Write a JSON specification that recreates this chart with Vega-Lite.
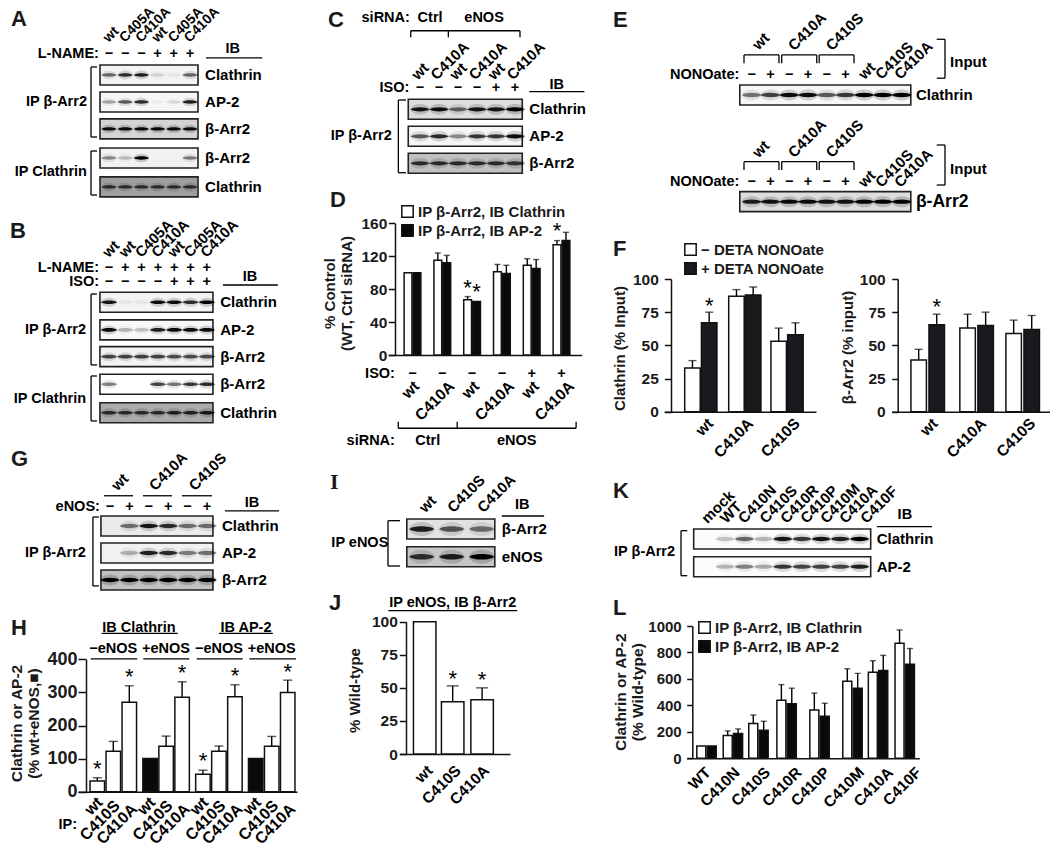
{
"$schema":"https://vega.github.io/schema/vega-lite/v6.json",
"padding":0,"background":"white","columns":4,"bounds":"flush","spacing":0,"align":"each",
"config":{"font":"Liberation Sans","view":{"stroke":null},"point":{"color":"#000"},
"axis":{"grid":false,"domainColor":"#111","domainWidth":1.5,"tickColor":"#111","tickWidth":1.5,"tickSize":8,"labelColor":"#1a1a1a","labelFontWeight":"bold","labelPadding":3,"titleColor":"#1a1a1a","titleFontWeight":"bold","titleFontSize":15,"titleAngle":270,"format":"d"},
"title":{"anchor":"start","frame":"group","fontSize":22,"fontWeight":"bold","color":"#1a1a1a","baseline":"alphabetic"},
"legend":{"symbolType":"square","symbolStrokeColor":"#111","symbolStrokeWidth":1.5,"labelFontSize":15,"labelFontWeight":"bold","labelColor":"#1a1a1a","symbolSize":130,"rowPadding":0,"labelOffset":3,"orient":"none","title":null},
"style":{
"smp":{"align":"left","baseline":"middle","angle":315,"fontSize":15,"fontWeight":"bold","fill":"#1a1a1a"},
"end":{"align":"right","baseline":"middle","angle":315,"fontSize":15.5,"fontWeight":"bold","fill":"#1a1a1a"},
"lab":{"align":"left","baseline":"middle","fontSize":15,"fontWeight":"bold","fill":"#1a1a1a"},
"rgt":{"align":"right","baseline":"middle","fontSize":14.5,"fontWeight":"bold","fill":"#1a1a1a"},
"ctr":{"align":"center","baseline":"middle","fontSize":14.5,"fontWeight":"bold","fill":"#1a1a1a"},
"star":{"align":"center","baseline":"middle","fontSize":22,"fill":"#444"},
"rl":{"stroke":"#111","strokeWidth":1.3},
"err":{"stroke":"#111","strokeWidth":1.4},
"bar1":{"stroke":"#111","strokeWidth":1.5},
"strip":{"stroke":"#222","strokeWidth":1.6},
"core":{"shape":"M-1,0C-.7,-.3 .7,-.3 1,0C.7,.3 -.7,.3 -1,0Z","strokeWidth":0},
"halo":{"shape":"M-1.05,0C-.8,-.75 .8,-.75 1.05,0C.8,.75 -.8,.75 -1.05,0Z","strokeWidth":0}
}},
"datasets":{
"a_b":[{"lane":1,"row":1,"v":0.55},{"lane":2,"row":1,"v":0.8},{"lane":3,"row":1,"v":0.85},{"lane":4,"row":1,"v":0.12},{"lane":5,"row":1,"v":0.05},{"lane":6,"row":1,"v":0.55},
{"lane":1,"row":1.98,"v":0.3},{"lane":2,"row":1.98,"v":0.6},{"lane":3,"row":1.98,"v":0.8},{"lane":4,"row":1.98,"v":0.03},{"lane":5,"row":1.98,"v":0.1},{"lane":6,"row":1.98,"v":0.85},
{"lane":1,"row":2.96,"v":0.95},{"lane":2,"row":2.96,"v":0.95},{"lane":3,"row":2.96,"v":0.95},{"lane":4,"row":2.96,"v":0.95},{"lane":5,"row":2.96,"v":0.95},{"lane":6,"row":2.96,"v":0.95},
{"lane":1,"row":4.02,"v":0.4},{"lane":2,"row":4.02,"v":0.2},{"lane":3,"row":4.02,"v":1},{"lane":4,"row":4.02,"v":0},{"lane":5,"row":4.02,"v":0},{"lane":6,"row":4.02,"v":0.45},
{"lane":1,"row":5.07,"v":0.7},{"lane":2,"row":5.07,"v":0.7},{"lane":3,"row":5.07,"v":0.7},{"lane":4,"row":5.07,"v":0.7},{"lane":5,"row":5.07,"v":0.7},{"lane":6,"row":5.07,"v":0.7}],
"b_b":[{"lane":1,"row":1,"v":0.9},{"lane":2,"row":1,"v":0.05},{"lane":3,"row":1,"v":0.05},{"lane":4,"row":1,"v":0.95},{"lane":5,"row":1,"v":0.95},{"lane":6,"row":1,"v":0.8},{"lane":7,"row":1,"v":1},
{"lane":1,"row":2,"v":0.95},{"lane":2,"row":2,"v":0.25},{"lane":3,"row":2,"v":0.2},{"lane":4,"row":2,"v":0.85},{"lane":5,"row":2,"v":0.95},{"lane":6,"row":2,"v":0.95},{"lane":7,"row":2,"v":0.95},
{"lane":1,"row":2.97,"v":0.7},{"lane":2,"row":2.97,"v":0.7},{"lane":3,"row":2.97,"v":0.7},{"lane":4,"row":2.97,"v":0.7},{"lane":5,"row":2.97,"v":0.65},{"lane":6,"row":2.97,"v":0.65},{"lane":7,"row":2.97,"v":0.65},
{"lane":1,"row":3.97,"v":0.45},{"lane":2,"row":3.97,"v":0},{"lane":3,"row":3.97,"v":0},{"lane":4,"row":3.97,"v":0.7},{"lane":5,"row":3.97,"v":0.5},{"lane":6,"row":3.97,"v":0.75},{"lane":7,"row":3.97,"v":0.8},
{"lane":1,"row":5,"v":0.75},{"lane":2,"row":5,"v":0.75},{"lane":3,"row":5,"v":0.75},{"lane":4,"row":5,"v":0.75},{"lane":5,"row":5,"v":0.8},{"lane":6,"row":5,"v":0.8},{"lane":7,"row":5,"v":0.85}],
"g_b":[{"lane":1,"row":1,"v":0},{"lane":2,"row":1,"v":0.5},{"lane":3,"row":1,"v":0.9},{"lane":4,"row":1,"v":0.8},{"lane":5,"row":1,"v":0.5},{"lane":6,"row":1,"v":0.5},
{"lane":1,"row":2,"v":0},{"lane":2,"row":2,"v":0.25},{"lane":3,"row":2,"v":0.85},{"lane":4,"row":2,"v":0.8},{"lane":5,"row":2,"v":0.45},{"lane":6,"row":2,"v":0.5},
{"lane":1,"row":3,"v":1},{"lane":2,"row":3,"v":1},{"lane":3,"row":3,"v":1},{"lane":4,"row":3,"v":1},{"lane":5,"row":3,"v":1},{"lane":6,"row":3,"v":1}],
"c_b":[{"lane":1,"row":1,"v":0.9},{"lane":2,"row":1,"v":0.95},{"lane":3,"row":1,"v":0.55},{"lane":4,"row":1,"v":0.9},{"lane":5,"row":1,"v":0.9},{"lane":6,"row":1,"v":1},
{"lane":1,"row":2,"v":0.6},{"lane":2,"row":2,"v":0.8},{"lane":3,"row":2,"v":0.4},{"lane":4,"row":2,"v":0.75},{"lane":5,"row":2,"v":0.75},{"lane":6,"row":2,"v":0.95},
{"lane":1,"row":3,"v":0.75},{"lane":2,"row":3,"v":0.75},{"lane":3,"row":3,"v":0.75},{"lane":4,"row":3,"v":0.75},{"lane":5,"row":3,"v":0.75},{"lane":6,"row":3,"v":0.7}],
"e_b":[{"lane":1,"row":1,"v":0.5},{"lane":2,"row":1,"v":0.7},{"lane":3,"row":1,"v":0.95},{"lane":4,"row":1,"v":0.95},{"lane":5,"row":1,"v":0.6},{"lane":6,"row":1,"v":0.75},{"lane":7,"row":1,"v":1},{"lane":8,"row":1,"v":1},{"lane":9,"row":1,"v":1},
{"lane":1,"row":2,"v":0.85},{"lane":2,"row":2,"v":0.9},{"lane":3,"row":2,"v":0.95},{"lane":4,"row":2,"v":0.95},{"lane":5,"row":2,"v":0.9},{"lane":6,"row":2,"v":0.9},{"lane":7,"row":2,"v":1},{"lane":8,"row":2,"v":1},{"lane":9,"row":2,"v":1}],
"i_b":[{"lane":1,"row":1,"v":0.85},{"lane":2,"row":1,"v":0.6},{"lane":3,"row":1,"v":0.5},{"lane":1,"row":2,"v":0.75},{"lane":2,"row":2,"v":0.85},{"lane":3,"row":2,"v":1}],
"k_b":[{"lane":1,"row":1,"v":0},{"lane":2,"row":1,"v":0.2},{"lane":3,"row":1,"v":0.55},{"lane":4,"row":1,"v":0.25},{"lane":5,"row":1,"v":0.9},{"lane":6,"row":1,"v":0.75},{"lane":7,"row":1,"v":0.9},{"lane":8,"row":1,"v":0.85},{"lane":9,"row":1,"v":1},
{"lane":1,"row":2,"v":0},{"lane":2,"row":2,"v":0.25},{"lane":3,"row":2,"v":0.45},{"lane":4,"row":2,"v":0.3},{"lane":5,"row":2,"v":0.75},{"lane":6,"row":2,"v":0.7},{"lane":7,"row":2,"v":0.7},{"lane":8,"row":2,"v":0.7},{"lane":9,"row":2,"v":0.85}],
"d_v":[{"slot":0.85,"sample":"wt","series":"IP β-Arr2, IB Clathrin","value":100,"hi":null},{"slot":1.15,"sample":"wt","series":"IP β-Arr2, IB AP-2","value":100,"hi":null},
{"slot":1.85,"sample":"C410A","series":"IP β-Arr2, IB Clathrin","value":115,"hi":124},{"slot":2.15,"sample":"C410A","series":"IP β-Arr2, IB AP-2","value":112,"hi":121},
{"slot":2.85,"sample":"wt","series":"IP β-Arr2, IB Clathrin","value":67,"hi":71},{"slot":3.15,"sample":"wt","series":"IP β-Arr2, IB AP-2","value":65,"hi":null},
{"slot":3.85,"sample":"C410A","series":"IP β-Arr2, IB Clathrin","value":101,"hi":110},{"slot":4.15,"sample":"C410A","series":"IP β-Arr2, IB AP-2","value":99,"hi":109},
{"slot":4.85,"sample":"wt","series":"IP β-Arr2, IB Clathrin","value":109,"hi":117},{"slot":5.15,"sample":"wt","series":"IP β-Arr2, IB AP-2","value":105,"hi":116},
{"slot":5.85,"sample":"C410A","series":"IP β-Arr2, IB Clathrin","value":134,"hi":139},{"slot":6.15,"sample":"C410A","series":"IP β-Arr2, IB AP-2","value":139,"hi":149}],
"f1_v":[{"slot":0.81,"series":"− DETA NONOate","value":33,"hi":38.5},{"slot":1.19,"series":"+ DETA NONOate","value":67,"hi":75},{"slot":1.81,"series":"− DETA NONOate","value":87,"hi":92},{"slot":2.19,"series":"+ DETA NONOate","value":88,"hi":94},{"slot":2.77,"series":"− DETA NONOate","value":53,"hi":63},{"slot":3.15,"series":"+ DETA NONOate","value":58,"hi":67}],
"f2_v":[{"slot":0.81,"series":"− DETA NONOate","value":39,"hi":47},{"slot":1.19,"series":"+ DETA NONOate","value":65.5,"hi":73.5},{"slot":1.84,"series":"− DETA NONOate","value":63,"hi":73.5},{"slot":2.22,"series":"+ DETA NONOate","value":65,"hi":75},{"slot":2.81,"series":"− DETA NONOate","value":59,"hi":69},{"slot":3.19,"series":"+ DETA NONOate","value":62,"hi":72.5}],
"h_v":[{"slot":1,"series":"sample","value":32,"hi":42},{"slot":2,"series":"sample","value":122,"hi":152},{"slot":3,"series":"sample","value":270,"hi":320},
{"slot":4.3,"series":"reference","value":100,"hi":null},{"slot":5.3,"series":"sample","value":137,"hi":168},{"slot":6.3,"series":"sample","value":285,"hi":332},
{"slot":7.6,"series":"sample","value":53,"hi":65},{"slot":8.6,"series":"sample","value":122,"hi":138},{"slot":9.6,"series":"sample","value":287,"hi":323},
{"slot":10.9,"series":"reference","value":100,"hi":null},{"slot":11.9,"series":"sample","value":137,"hi":167},{"slot":12.9,"series":"sample","value":300,"hi":337}],
"j_v":[{"slot":1,"series":"sample","value":100,"hi":null},{"slot":1.975,"series":"sample","value":39.5,"hi":51.5},{"slot":3,"series":"sample","value":41,"hi":50}],
"l_v":[{"slot":0.817,"series":"IP β-Arr2, IB Clathrin","value":93,"hi":null},{"slot":1.183,"series":"IP β-Arr2, IB AP-2","value":93,"hi":null},
{"slot":1.747,"series":"IP β-Arr2, IB Clathrin","value":172,"hi":207},{"slot":2.113,"series":"IP β-Arr2, IB AP-2","value":188,"hi":222},
{"slot":2.647,"series":"IP β-Arr2, IB Clathrin","value":263,"hi":327},{"slot":3.013,"series":"IP β-Arr2, IB AP-2","value":212,"hi":280},
{"slot":3.637,"series":"IP β-Arr2, IB Clathrin","value":438,"hi":557},{"slot":4.003,"series":"IP β-Arr2, IB AP-2","value":412,"hi":530},
{"slot":4.797,"series":"IP β-Arr2, IB Clathrin","value":365,"hi":493},{"slot":5.163,"series":"IP β-Arr2, IB AP-2","value":318,"hi":416},
{"slot":5.957,"series":"IP β-Arr2, IB Clathrin","value":583,"hi":677},{"slot":6.323,"series":"IP β-Arr2, IB AP-2","value":530,"hi":642},
{"slot":6.857,"series":"IP β-Arr2, IB Clathrin","value":650,"hi":738},{"slot":7.223,"series":"IP β-Arr2, IB AP-2","value":663,"hi":778},
{"slot":7.797,"series":"IP β-Arr2, IB Clathrin","value":870,"hi":970},{"slot":8.163,"series":"IP β-Arr2, IB AP-2","value":710,"hi":830}]
},
"concat":[
{"title":{"text":"A","dx":11,"offset":-31},"width":310,"height":215,
"encoding":{"x":{"field":"lane","type":"quantitative","axis":null,"scale":{"domain":[-5.728,13.407],"nice":false,"zero":false}},"y":{"field":"row","type":"quantitative","axis":null,"scale":{"domain":[6.091,-1.727],"nice":false,"zero":false}}},
"layer":[
{"data":{"values":[{"lane":-0.11,"lane2":-0.11,"row":0.709,"row2":3.255},{"lane":-0.11,"lane2":0.26,"row":0.709,"row2":0.709},{"lane":-0.11,"lane2":0.26,"row":3.255,"row2":3.255},{"lane":-0.11,"lane2":-0.11,"row":3.764,"row2":5.364},{"lane":-0.11,"lane2":0.26,"row":3.764,"row2":3.764},{"lane":-0.11,"lane2":0.26,"row":5.364,"row2":5.364},{"lane":6.99,"lane2":10.46,"row":0.38,"row2":0.38}]},"mark":{"type":"rule","style":"rl"},"encoding":{"x2":{"field":"lane2"},"y2":{"field":"row2"}}},
{"data":{"values":[{"lane":3.47,"row":1,"bg":0.04},{"lane":3.47,"row":1.98,"bg":0.03},{"lane":3.47,"row":2.96,"bg":0.15},{"lane":3.47,"row":4.02,"bg":0.05},{"lane":3.47,"row":5.07,"bg":0.35}]},"mark":{"type":"rect","width":98,"height":20,"style":"strip"},"encoding":{"fill":{"field":"bg","type":"quantitative","legend":null,"scale":{"domain":[0,1],"range":["#ffffff","#000000"]}}}},
{"data":{"name":"a_b"},"mark":{"type":"point","filled":true,"size":225,"style":"halo"},"encoding":{"fillOpacity":{"field":"v","type":"quantitative","legend":null,"scale":{"domain":[0,1],"range":[0,0.25]}}}},
{"data":{"name":"a_b"},"mark":{"type":"point","filled":true,"size":225,"style":"core"},"encoding":{"opacity":{"field":"v","type":"quantitative","legend":null,"scale":{"domain":[0,1],"range":[0,1]}}}},
{"data":{"values":[{"lane":0.8,"row":-0.27,"label":"wt"},{"lane":1.8,"row":-0.27,"label":"C405A"},{"lane":2.8,"row":-0.27,"label":"C410A"},{"lane":3.8,"row":-0.27,"label":"wt"},{"lane":4.8,"row":-0.27,"label":"C405A"},{"lane":5.8,"row":-0.27,"label":"C410A"}]},"mark":{"type":"text","style":"smp","fontSize":13.8},"encoding":{"text":{"field":"label"}}},
{"data":{"values":[{"lane":6.93,"row":1,"label":"Clathrin"},{"lane":6.93,"row":1.98,"label":"AP-2"},{"lane":6.93,"row":2.96,"label":"β-Arr2"},{"lane":6.93,"row":4.02,"label":"β-Arr2"},{"lane":6.93,"row":5.07,"label":"Clathrin"}]},"mark":{"type":"text","style":"lab"},"encoding":{"text":{"field":"label"}}},
{"data":{"values":[{"lane":0.38,"row":0.236,"label":"L-NAME:"},{"lane":-0.36,"row":1.98,"label":"IP β-Arr2"},{"lane":-0.36,"row":4.53,"label":"IP Clathrin"}]},"mark":{"type":"text","style":"rgt"},"encoding":{"text":{"field":"label"}}},
{"data":{"values":[{"lane":1,"row":0.236,"label":"−"},{"lane":2,"row":0.236,"label":"−"},{"lane":3,"row":0.236,"label":"−"},{"lane":4,"row":0.236,"label":"+"},{"lane":5,"row":0.236,"label":"+"},{"lane":6,"row":0.236,"label":"+"},{"lane":8.64,"row":0.05,"label":"IB"}]},"mark":{"type":"text","style":"ctr"},"encoding":{"text":{"field":"label"}}}
]},
{"title":{"text":"C","dx":18,"offset":-32},"width":290,"height":215,
"encoding":{"x":{"field":"lane","type":"quantitative","axis":null,"scale":{"domain":[-4.79,10.47],"nice":false,"zero":false}},"y":{"field":"row","type":"quantitative","axis":null,"scale":{"domain":[4.915,-3.048],"nice":false,"zero":false}}},
"layer":[
{"data":{"values":[{"lane":-0.14,"lane2":-0.14,"row":0.656,"row2":3.35},{"lane":-0.14,"lane2":0.26,"row":0.656,"row2":0.656},{"lane":-0.14,"lane2":0.26,"row":3.35,"row2":3.35},{"lane":0.51,"lane2":6.26,"row":-1.91,"row2":-1.91},{"lane":0.51,"lane2":0.51,"row":-1.91,"row2":-1.667},{"lane":2.49,"lane2":2.49,"row":-1.91,"row2":-1.667},{"lane":6.26,"lane2":6.26,"row":-1.91,"row2":-1.667},{"lane":6.75,"lane2":9.65,"row":0.348,"row2":0.348}]},"mark":{"type":"rule","style":"rl"},"encoding":{"x2":{"field":"lane2"},"y2":{"field":"row2"}}},
{"data":{"values":[{"lane":3.38,"row":1,"bg":0.12},{"lane":3.38,"row":2,"bg":0.03},{"lane":3.38,"row":3,"bg":0.22}]},"mark":{"type":"rect","width":114,"height":20,"style":"strip"},"encoding":{"fill":{"field":"bg","type":"quantitative","legend":null,"scale":{"domain":[0,1],"range":["#ffffff","#000000"]}}}},
{"data":{"name":"c_b"},"mark":{"type":"point","filled":true,"size":361,"style":"halo"},"encoding":{"fillOpacity":{"field":"v","type":"quantitative","legend":null,"scale":{"domain":[0,1],"range":[0,0.4]}}}},
{"data":{"name":"c_b"},"mark":{"type":"point","filled":true,"size":361,"style":"core"},"encoding":{"opacity":{"field":"v","type":"quantitative","legend":null,"scale":{"domain":[0,1],"range":[0,1]}}}},
{"data":{"values":[{"lane":0.7,"row":-0.185,"label":"wt"},{"lane":1.7,"row":-0.185,"label":"C410A"},{"lane":2.7,"row":-0.185,"label":"wt"},{"lane":3.7,"row":-0.185,"label":"C410A"},{"lane":4.7,"row":-0.185,"label":"wt"},{"lane":5.7,"row":-0.185,"label":"C410A"}]},"mark":{"type":"text","style":"smp"},"encoding":{"text":{"field":"label"}}},
{"data":{"values":[{"lane":6.75,"row":1,"label":"Clathrin"},{"lane":6.75,"row":2,"label":"AP-2"},{"lane":6.75,"row":3,"label":"β-Arr2"}]},"mark":{"type":"text","style":"lab"},"encoding":{"text":{"field":"label"}}},
{"data":{"values":[{"lane":0.44,"row":0.222,"label":"ISO:"},{"lane":-0.49,"row":2,"label":"IP β-Arr2"}]},"mark":{"type":"text","style":"rgt"},"encoding":{"text":{"field":"label"}}},
{"data":{"values":[{"lane":1,"row":0.222,"label":"−"},{"lane":2,"row":0.222,"label":"−"},{"lane":3,"row":0.222,"label":"−"},{"lane":4,"row":0.222,"label":"−"},{"lane":5,"row":0.222,"label":"+"},{"lane":6,"row":0.222,"label":"+"},{"lane":8.19,"row":0.1,"label":"IB"},{"lane":-0.805,"row":-2.37,"label":"siRNA:"},{"lane":1.53,"row":-2.37,"label":"Ctrl"},{"lane":4.37,"row":-2.37,"label":"eNOS"}]},"mark":{"type":"text","style":"ctr"},"encoding":{"text":{"field":"label"}}}
]},
{"title":{"text":"E","dx":13,"offset":-32},"width":225,"height":215,
"encoding":{"x":{"field":"lane","type":"quantitative","axis":null,"scale":{"domain":[-7.09,16.91],"range":[0,450],"nice":false,"zero":false}},"y":{"field":"row","type":"quantitative","axis":null,"scale":{"domain":[2.125,0.11],"nice":false,"zero":false}}},
"layer":[
{"data":{"values":[{"lane":0.59,"lane2":2.456,"row":0.625,"row2":0.625},{"lane":0.59,"lane2":0.59,"row":0.625,"row2":0.703},{"lane":2.456,"lane2":2.456,"row":0.625,"row2":0.703},{"lane":2.6,"lane2":4.47,"row":0.625,"row2":0.625},{"lane":2.6,"lane2":2.6,"row":0.625,"row2":0.703},{"lane":4.47,"lane2":4.47,"row":0.625,"row2":0.703},{"lane":4.6,"lane2":6.456,"row":0.625,"row2":0.625},{"lane":4.6,"lane2":4.6,"row":0.625,"row2":0.703},{"lane":6.456,"lane2":6.456,"row":0.625,"row2":0.703},
{"lane":0.59,"lane2":2.456,"row":1.625,"row2":1.625},{"lane":0.59,"lane2":0.59,"row":1.625,"row2":1.703},{"lane":2.456,"lane2":2.456,"row":1.625,"row2":1.703},{"lane":2.6,"lane2":4.47,"row":1.625,"row2":1.625},{"lane":2.6,"lane2":2.6,"row":1.625,"row2":1.703},{"lane":4.47,"lane2":4.47,"row":1.625,"row2":1.703},{"lane":4.6,"lane2":6.456,"row":1.625,"row2":1.625},{"lane":4.6,"lane2":4.6,"row":1.625,"row2":1.703},{"lane":6.456,"lane2":6.456,"row":1.625,"row2":1.703},
{"lane":11.31,"lane2":11.31,"row":0.478,"row2":0.843},{"lane":10.87,"lane2":11.31,"row":0.478,"row2":0.478},{"lane":10.87,"lane2":11.31,"row":0.843,"row2":0.843},{"lane":11.31,"lane2":11.31,"row":1.469,"row2":1.844},{"lane":10.87,"lane2":11.31,"row":1.469,"row2":1.469},{"lane":10.87,"lane2":11.31,"row":1.844,"row2":1.844}]},"mark":{"type":"rule","style":"rl"},"encoding":{"x2":{"field":"lane2"},"y2":{"field":"row2"}}},
{"data":{"values":[{"lane":4.925,"row":1,"bg":0.03},{"lane":4.925,"row":2,"bg":0.12}]},"mark":{"type":"rect","width":171,"height":20,"style":"strip"},"encoding":{"fill":{"field":"bg","type":"quantitative","legend":null,"scale":{"domain":[0,1],"range":["#ffffff","#000000"]}}}},
{"data":{"name":"e_b"},"mark":{"type":"point","filled":true,"size":380,"style":"halo"},"encoding":{"fillOpacity":{"field":"v","type":"quantitative","legend":null,"scale":{"domain":[0,1],"range":[0,0.5]}}}},
{"data":{"name":"e_b"},"mark":{"type":"point","filled":true,"size":380,"style":"core"},"encoding":{"opacity":{"field":"v","type":"quantitative","legend":null,"scale":{"domain":[0,1],"range":[0,0.95]}}}},
{"data":{"values":[{"lane":1.176,"row":0.553,"label":"wt"},{"lane":3.08,"row":0.56,"label":"C410A"},{"lane":5.09,"row":0.56,"label":"C410S"},{"lane":6.83,"row":0.83,"label":"wt"},{"lane":7.74,"row":0.83,"label":"C410S"},{"lane":8.75,"row":0.83,"label":"C410A"},
{"lane":1.176,"row":1.562,"label":"wt"},{"lane":3.08,"row":1.562,"label":"C410A"},{"lane":5.09,"row":1.562,"label":"C410S"},{"lane":6.83,"row":1.84,"label":"wt"},{"lane":7.74,"row":1.84,"label":"C410S"},{"lane":8.75,"row":1.84,"label":"C410A"}]},"mark":{"type":"text","style":"smp"},"encoding":{"text":{"field":"label"}}},
{"data":{"values":[{"lane":9.76,"row":1,"label":"Clathrin"},{"lane":11.58,"row":0.694,"label":"Input"},{"lane":11.58,"row":1.693,"label":"Input"}]},"mark":{"type":"text","style":"lab"},"encoding":{"text":{"field":"label"}}},
{"data":{"values":[{"lane":9.76,"row":2,"label":"β-Arr2"}]},"mark":{"type":"text","style":"lab","fontSize":17.5},"encoding":{"text":{"field":"label"}}},
{"data":{"values":[{"lane":0.339,"row":0.8126,"label":"NONOate:"},{"lane":0.339,"row":1.8126,"label":"NONOate:"}]},"mark":{"type":"text","style":"rgt"},"encoding":{"text":{"field":"label"}}},
{"data":{"values":[{"lane":1,"row":0.8126,"label":"−"},{"lane":2,"row":0.8126,"label":"+"},{"lane":3,"row":0.8126,"label":"−"},{"lane":4,"row":0.8126,"label":"+"},{"lane":5,"row":0.8126,"label":"−"},{"lane":6,"row":0.8126,"label":"+"},{"lane":1,"row":1.8126,"label":"−"},{"lane":2,"row":1.8126,"label":"+"},{"lane":3,"row":1.8126,"label":"−"},{"lane":4,"row":1.8126,"label":"+"},{"lane":5,"row":1.8126,"label":"−"},{"lane":6,"row":1.8126,"label":"+"}]},"mark":{"type":"text","style":"ctr"},"encoding":{"text":{"field":"label"}}}
]},
{"width":225,"height":1,"data":{"values":[]},"mark":"point","encoding":{}},

{"title":{"text":"B","dx":10,"offset":-28},"width":310,"height":237,
"encoding":{"x":{"field":"lane","type":"quantitative","axis":null,"scale":{"domain":[-5.687,13.33],"nice":false,"zero":false}},"y":{"field":"row","type":"quantitative","axis":null,"scale":{"domain":[6.424,-2.163],"nice":false,"zero":false}}},
"layer":[
{"data":{"values":[{"lane":-0.1,"lane2":-0.1,"row":0.7,"row2":3.27},{"lane":-0.1,"lane2":0.26,"row":0.7,"row2":0.7},{"lane":-0.1,"lane2":0.26,"row":3.27,"row2":3.27},{"lane":-0.1,"lane2":-0.1,"row":3.67,"row2":5.3},{"lane":-0.1,"lane2":0.26,"row":3.67,"row2":3.67},{"lane":-0.1,"lane2":0.26,"row":5.3,"row2":5.3},{"lane":7.99,"lane2":11.36,"row":0.373,"row2":0.373}]},"mark":{"type":"rule","style":"rl"},"encoding":{"x2":{"field":"lane2"},"y2":{"field":"row2"}}},
{"data":{"values":[{"lane":3.91,"row":1,"bg":0.04},{"lane":3.91,"row":2,"bg":0.02},{"lane":3.91,"row":2.97,"bg":0.04},{"lane":3.91,"row":3.97,"bg":0.0},{"lane":3.91,"row":5,"bg":0.3}]},"mark":{"type":"rect","width":113,"height":20,"style":"strip"},"encoding":{"fill":{"field":"bg","type":"quantitative","legend":null,"scale":{"domain":[0,1],"range":["#ffffff","#000000"]}}}},
{"data":{"name":"b_b"},"mark":{"type":"point","filled":true,"size":256,"style":"halo"},"encoding":{"fillOpacity":{"field":"v","type":"quantitative","legend":null,"scale":{"domain":[0,1],"range":[0,0.25]}}}},
{"data":{"name":"b_b"},"mark":{"type":"point","filled":true,"size":256,"style":"core"},"encoding":{"opacity":{"field":"v","type":"quantitative","legend":null,"scale":{"domain":[0,1],"range":[0,1]}}}},
{"data":{"values":[{"lane":0.8,"row":-0.7,"label":"wt"},{"lane":1.8,"row":-0.7,"label":"wt"},{"lane":2.8,"row":-0.7,"label":"C405A"},{"lane":3.8,"row":-0.7,"label":"C410A"},{"lane":4.8,"row":-0.7,"label":"wt"},{"lane":5.8,"row":-0.7,"label":"C405A"},{"lane":6.8,"row":-0.7,"label":"C410A"}]},"mark":{"type":"text","style":"smp","fontSize":14.8},"encoding":{"text":{"field":"label"}}},
{"data":{"values":[{"lane":7.82,"row":1,"label":"Clathrin"},{"lane":7.82,"row":2,"label":"AP-2"},{"lane":7.82,"row":2.97,"label":"β-Arr2"},{"lane":7.82,"row":3.97,"label":"β-Arr2"},{"lane":7.82,"row":5,"label":"Clathrin"}]},"mark":{"type":"text","style":"lab"},"encoding":{"text":{"field":"label"}}},
{"data":{"values":[{"lane":0.39,"row":-0.243,"label":"L-NAME:"},{"lane":0.39,"row":0.275,"label":"ISO:"},{"lane":-0.41,"row":2,"label":"IP β-Arr2"},{"lane":-0.41,"row":4.5,"label":"IP Clathrin"}]},"mark":{"type":"text","style":"rgt"},"encoding":{"text":{"field":"label"}}},
{"data":{"values":[{"lane":1,"row":-0.243,"label":"−"},{"lane":2,"row":-0.243,"label":"+"},{"lane":3,"row":-0.243,"label":"+"},{"lane":4,"row":-0.243,"label":"+"},{"lane":5,"row":-0.243,"label":"+"},{"lane":6,"row":-0.243,"label":"+"},{"lane":7,"row":-0.243,"label":"+"},{"lane":1,"row":0.275,"label":"−"},{"lane":2,"row":0.275,"label":"−"},{"lane":3,"row":0.275,"label":"−"},{"lane":4,"row":0.275,"label":"−"},{"lane":5,"row":0.275,"label":"+"},{"lane":6,"row":0.275,"label":"+"},{"lane":7,"row":0.275,"label":"+"},{"lane":9.65,"row":0.083,"label":"IB"}]},"mark":{"type":"text","style":"ctr"},"encoding":{"text":{"field":"label"}}}
]},
{"title":{"text":"D","dx":20,"offset":-8},"width":290,"height":237,
"encoding":{"x":{"field":"slot","type":"quantitative","axis":{"values":[],"title":null,"ticks":false,"labels":false,"offset":-97},"scale":{"domain":[0.188,6.678],"range":[78.3,271.7],"nice":false,"zero":false,"padding":0}},"y":{"field":"value","type":"quantitative","axis":{"values":[0,40,80,120,160],"offset":-85,"tickSize":6.7,"labelPadding":1.5,"labelFontSize":15.5,"title":["% Control","(WT, Ctrl siRNA)"],"titleX":-58,"titleY":78},"scale":{"domain":[0,160],"range":[140,8.3],"nice":false,"zero":false}}},
"layer":[
{"data":{"values":[{"slot":0.523,"slot2":6.49,"value":-89,"value2":-89},{"slot":0.523,"slot2":0.523,"value":-81,"value2":-89},{"slot":2.5,"slot2":2.5,"value":-81,"value2":-89},{"slot":6.49,"slot2":6.49,"value":-81,"value2":-89}]},"mark":{"type":"rule","style":"rl"},"encoding":{"x2":{"field":"slot2"},"y2":{"field":"value2"}}},
{"data":{"name":"d_v"},"mark":{"type":"bar","width":7.8,"style":"bar1"},"encoding":{"y":{"field":"value","type":"quantitative","stack":null},"fill":{"field":"series","type":"nominal","scale":{"domain":["IP β-Arr2, IB Clathrin","IP β-Arr2, IB AP-2"],"range":["#ffffff","#0a0a0a"]},"legend":{"legendX":90,"legendY":-11}}}},
{"data":{"name":"d_v"},"transform":[{"filter":"datum.hi"}],"mark":{"type":"rule","style":"err"},"encoding":{"y2":{"field":"hi"}}},
{"data":{"name":"d_v"},"transform":[{"filter":"datum.hi"}],"mark":{"type":"tick","orient":"horizontal","size":6,"thickness":1.4,"color":"#111"},"encoding":{"y":{"field":"hi","type":"quantitative"}}},
{"data":{"values":[{"slot":2.85,"value":82,"label":"*"},{"slot":3.15,"value":77,"label":"*"},{"slot":5.85,"value":151,"label":"*"}]},"mark":{"type":"text","style":"star"},"encoding":{"text":{"field":"label"}}},
{"data":{"values":[{"slot":1.14,"value":-35,"label":"wt"},{"slot":2.32,"value":-35,"label":"C410A"},{"slot":3.15,"value":-35,"label":"wt"},{"slot":4.33,"value":-35,"label":"C410A"},{"slot":5.16,"value":-35,"label":"wt"},{"slot":6.34,"value":-35,"label":"C410A"}]},"mark":{"type":"text","style":"end"},"encoding":{"text":{"field":"label"}}},
{"data":{"values":[{"slot":0.41,"value":-23,"label":"ISO:"},{"slot":0.41,"value":-105,"label":"siRNA:"}]},"mark":{"type":"text","style":"rgt"},"encoding":{"text":{"field":"label"}}},
{"data":{"values":[{"slot":1,"value":-23,"label":"−"},{"slot":2,"value":-23,"label":"−"},{"slot":3,"value":-23,"label":"−"},{"slot":4,"value":-23,"label":"−"},{"slot":5,"value":-23,"label":"+"},{"slot":6,"value":-23,"label":"+"},{"slot":1.51,"value":-105,"label":"Ctrl"},{"slot":4.5,"value":-105,"label":"eNOS"}]},"mark":{"type":"text","style":"ctr"},"encoding":{"text":{"field":"label"}}}
]},
{"title":{"text":"F","dx":13,"offset":-46},"width":225,"height":237,
"encoding":{"x":{"field":"slot","type":"quantitative","axis":{"values":[],"title":null,"ticks":false,"labels":false,"offset":-40.3},"scale":{"domain":[0.17,3.618],"range":[64.3,216],"nice":false,"zero":false,"padding":0}},"y":{"field":"value","type":"quantitative","axis":{"values":[0,25,50,75,100],"offset":-71,"tickSize":6.7,"labelPadding":6,"labelFontSize":15.5,"title":"Clathrin  (% Input)","titleX":-44,"titleY":133},"scale":{"domain":[0,100],"range":[196.7,64],"nice":false,"zero":false}}},
"layer":[
{"data":{"name":"f1_v"},"mark":{"type":"bar","width":15.5,"style":"bar1"},"encoding":{"y":{"field":"value","type":"quantitative","stack":null},"fill":{"field":"series","type":"nominal","scale":{"domain":["− DETA NONOate","+ DETA NONOate"],"range":["#ffffff","#1a1a1e"]},"legend":{"legendX":83,"legendY":27}}}},
{"data":{"name":"f1_v"},"mark":{"type":"rule","style":"err"},"encoding":{"y2":{"field":"hi"}}},
{"data":{"name":"f1_v"},"mark":{"type":"tick","orient":"horizontal","size":8,"thickness":1.4,"color":"#111"},"encoding":{"y":{"field":"hi","type":"quantitative"}}},
{"data":{"values":[{"slot":1.19,"value":80,"label":"*"}]},"mark":{"type":"text","style":"star"},"encoding":{"text":{"field":"label"}}},
{"data":{"values":[{"slot":1.225,"value":-7,"label":"wt"},{"slot":2.134,"value":-7,"label":"C410A"},{"slot":3.19,"value":-7,"label":"C410S"}]},"mark":{"type":"text","style":"end"},"encoding":{"text":{"field":"label"}}}
]},
{"width":225,"height":237,
"encoding":{"x":{"field":"slot","type":"quantitative","axis":{"values":[],"title":null,"ticks":false,"labels":false,"offset":-40.3},"scale":{"domain":[0.242,3.575],"range":[66.7,225],"nice":false,"zero":false,"padding":0}},"y":{"field":"value","type":"quantitative","axis":{"values":[0,25,50,75,100],"offset":-72.7,"tickSize":6,"labelPadding":6.5,"labelFontSize":15.5,"title":"β-Arr2 (% input)","titleX":-42.7,"titleY":132},"scale":{"domain":[0,100],"range":[196.7,64],"nice":false,"zero":false}}},
"layer":[
{"data":{"name":"f2_v"},"mark":{"type":"bar","width":15.5,"style":"bar1"},"encoding":{"y":{"field":"value","type":"quantitative","stack":null},"fill":{"field":"series","type":"nominal","scale":{"domain":["− DETA NONOate","+ DETA NONOate"],"range":["#ffffff","#1a1a1e"]},"legend":null}}},
{"data":{"name":"f2_v"},"mark":{"type":"rule","style":"err"},"encoding":{"y2":{"field":"hi"}}},
{"data":{"name":"f2_v"},"mark":{"type":"tick","orient":"horizontal","size":8,"thickness":1.4,"color":"#111"},"encoding":{"y":{"field":"hi","type":"quantitative"}}},
{"data":{"values":[{"slot":1.19,"value":79,"label":"*"}]},"mark":{"type":"text","style":"star"},"encoding":{"text":{"field":"label"}}},
{"data":{"values":[{"slot":1.154,"value":-7,"label":"wt"},{"slot":2.175,"value":-7,"label":"C410A"},{"slot":3.21,"value":-7,"label":"C410S"}]},"mark":{"type":"text","style":"end"},"encoding":{"text":{"field":"label"}}}
]},

{"title":{"text":"G","dx":11,"offset":-21},"width":310,"height":143,
"encoding":{"x":{"field":"lane","type":"quantitative","axis":null,"scale":{"domain":[-4.67,11.31],"nice":false,"zero":false}},"y":{"field":"row","type":"quantitative","axis":null,"scale":{"domain":[3.556,-1.741],"nice":false,"zero":false}}},
"layer":[
{"data":{"values":[{"lane":0.12,"lane2":0.12,"row":0.667,"row2":3.22},{"lane":0.12,"lane2":0.43,"row":0.667,"row2":0.667},{"lane":0.12,"lane2":0.43,"row":3.22,"row2":3.22},{"lane":0.69,"lane2":2.19,"row":-0.12,"row2":-0.12},{"lane":2.7,"lane2":4.2,"row":-0.12,"row2":-0.12},{"lane":4.71,"lane2":6.26,"row":-0.12,"row2":-0.12},{"lane":6.93,"lane2":9.71,"row":0.44,"row2":0.44}]},"mark":{"type":"rule","style":"rl"},"encoding":{"x2":{"field":"lane2"},"y2":{"field":"row2"}}},
{"data":{"values":[{"lane":3.42,"row":1,"bg":0.07},{"lane":3.42,"row":2,"bg":0.05},{"lane":3.42,"row":3,"bg":0.22}]},"mark":{"type":"rect","width":112,"height":20,"style":"strip"},"encoding":{"fill":{"field":"bg","type":"quantitative","legend":null,"scale":{"domain":[0,1],"range":["#ffffff","#000000"]}}}},
{"data":{"name":"g_b"},"mark":{"type":"point","filled":true,"size":361,"style":"halo"},"encoding":{"fillOpacity":{"field":"v","type":"quantitative","legend":null,"scale":{"domain":[0,1],"range":[0,0.15]}}}},
{"data":{"name":"g_b"},"mark":{"type":"point","filled":true,"size":361,"style":"core"},"encoding":{"opacity":{"field":"v","type":"quantitative","legend":null,"scale":{"domain":[0,1],"range":[0,1]}}}},
{"data":{"values":[{"lane":1.2,"row":-0.41,"label":"wt"},{"lane":3.15,"row":-0.41,"label":"C410A"},{"lane":5.2,"row":-0.41,"label":"C410S"}]},"mark":{"type":"text","style":"smp"},"encoding":{"text":{"field":"label"}}},
{"data":{"values":[{"lane":6.77,"row":1,"label":"Clathrin"},{"lane":6.77,"row":2,"label":"AP-2"},{"lane":6.77,"row":3,"label":"β-Arr2"}]},"mark":{"type":"text","style":"lab"},"encoding":{"text":{"field":"label"}}},
{"data":{"values":[{"lane":0.48,"row":0.285,"label":"eNOS:"},{"lane":-0.24,"row":2,"label":"IP β-Arr2"}]},"mark":{"type":"text","style":"rgt"},"encoding":{"text":{"field":"label"}}},
{"data":{"values":[{"lane":1,"row":0.285,"label":"−"},{"lane":2,"row":0.285,"label":"+"},{"lane":3,"row":0.285,"label":"−"},{"lane":4,"row":0.285,"label":"+"},{"lane":5,"row":0.285,"label":"−"},{"lane":6,"row":0.285,"label":"+"},{"lane":8.32,"row":0.15,"label":"IB"}]},"mark":{"type":"text","style":"ctr"},"encoding":{"text":{"field":"label"}}}
]},
{"title":{"text":"I","dx":20,"offset":-42,"font":"Liberation Serif"},"width":290,"height":143,
"encoding":{"x":{"field":"lane","type":"quantitative","axis":null,"scale":{"domain":[-2.723,6.943],"nice":false,"zero":false}},"y":{"field":"row","type":"quantitative","axis":null,"scale":{"domain":[3.383,-1.78],"nice":false,"zero":false}}},
"layer":[
{"data":{"values":[{"lane":-0.123,"lane2":-0.123,"row":0.7,"row2":2.336},{"lane":-0.123,"lane2":0.277,"row":0.7,"row2":0.7},{"lane":-0.123,"lane2":0.277,"row":2.336,"row2":2.336},{"lane":3.67,"lane2":5.08,"row":0.53,"row2":0.53}]},"mark":{"type":"rule","style":"rl"},"encoding":{"x2":{"field":"lane2"},"y2":{"field":"row2"}}},
{"data":{"values":[{"lane":1.97,"row":1,"bg":0.1},{"lane":1.97,"row":2,"bg":0.2}]},"mark":{"type":"rect","width":88,"height":20,"style":"strip"},"encoding":{"fill":{"field":"bg","type":"quantitative","legend":null,"scale":{"domain":[0,1],"range":["#ffffff","#000000"]}}}},
{"data":{"name":"i_b"},"mark":{"type":"point","filled":true,"size":625,"style":"halo"},"encoding":{"fillOpacity":{"field":"v","type":"quantitative","legend":null,"scale":{"domain":[0,1],"range":[0,0.3]}}}},
{"data":{"name":"i_b"},"mark":{"type":"point","filled":true,"size":625,"style":"core"},"encoding":{"opacity":{"field":"v","type":"quantitative","legend":null,"scale":{"domain":[0,1],"range":[0,0.9]}}}},
{"data":{"values":[{"lane":1,"row":0.314,"label":"wt"},{"lane":1.94,"row":0.314,"label":"C410S"},{"lane":2.94,"row":0.314,"label":"C410A"}]},"mark":{"type":"text","style":"smp"},"encoding":{"text":{"field":"label"}}},
{"data":{"values":[{"lane":3.67,"row":1,"label":"β-Arr2"},{"lane":3.67,"row":2,"label":"eNOS"}]},"mark":{"type":"text","style":"lab"},"encoding":{"text":{"field":"label"}}},
{"data":{"values":[{"lane":-0.113,"row":1.516,"label":"IP eNOS"}]},"mark":{"type":"text","style":"rgt"},"encoding":{"text":{"field":"label"}}},
{"data":{"values":[{"lane":4.35,"row":0.134,"label":"IB"}]},"mark":{"type":"text","style":"ctr"},"encoding":{"text":{"field":"label"}}}
]},
{"title":{"text":"K","dx":13,"offset":-51},"width":225,"height":143,
"encoding":{"x":{"field":"lane","type":"quantitative","axis":null,"scale":{"domain":[-4.52,18.92],"range":[0,450],"nice":false,"zero":false}},"y":{"field":"row","type":"quantitative","axis":null,"scale":{"domain":[3.022,-2.141],"nice":false,"zero":false}}},
"layer":[
{"data":{"values":[{"lane":-0.3,"lane2":-0.3,"row":0.7,"row2":2.325},{"lane":-0.3,"lane2":0.026,"row":0.7,"row2":0.7},{"lane":-0.3,"lane2":0.026,"row":2.325,"row2":2.325},{"lane":9.9,"lane2":12.77,"row":0.556,"row2":0.556}]},"mark":{"type":"rule","style":"rl"},"encoding":{"x2":{"field":"lane2"},"y2":{"field":"row2"}}},
{"data":{"values":[{"lane":4.97,"row":1,"bg":0.01},{"lane":4.97,"row":2,"bg":0.01}]},"mark":{"type":"rect","width":177,"height":20,"style":"strip"},"encoding":{"fill":{"field":"bg","type":"quantitative","legend":null,"scale":{"domain":[0,1],"range":["#ffffff","#000000"]}}}},
{"data":{"name":"k_b"},"mark":{"type":"point","filled":true,"size":361,"style":"halo"},"encoding":{"fillOpacity":{"field":"v","type":"quantitative","legend":null,"scale":{"domain":[0,1],"range":[0,0.2]}}}},
{"data":{"name":"k_b"},"mark":{"type":"point","filled":true,"size":361,"style":"core"},"encoding":{"opacity":{"field":"v","type":"quantitative","legend":null,"scale":{"domain":[0,1],"range":[0,1]}}}},
{"data":{"values":[{"lane":0.9,"row":0.339,"label":"mock"},{"lane":1.87,"row":0.339,"label":"WT"},{"lane":2.81,"row":0.339,"label":"C410N"},{"lane":3.93,"row":0.339,"label":"C410S"},{"lane":5.01,"row":0.339,"label":"C410R"},{"lane":6.05,"row":0.339,"label":"C410P"},{"lane":7.1,"row":0.339,"label":"C410M"},{"lane":8.08,"row":0.339,"label":"C410A"},{"lane":9.18,"row":0.339,"label":"C410F"}]},"mark":{"type":"text","style":"smp"},"encoding":{"text":{"field":"label"}}},
{"data":{"values":[{"lane":9.89,"row":1,"label":"Clathrin"},{"lane":9.89,"row":2,"label":"AP-2"}]},"mark":{"type":"text","style":"lab"},"encoding":{"text":{"field":"label"}}},
{"data":{"values":[{"lane":-0.61,"row":1.458,"label":"IP β-Arr2"}]},"mark":{"type":"text","style":"rgt"},"encoding":{"text":{"field":"label"}}},
{"data":{"values":[{"lane":11.36,"row":0.134,"label":"IB"}]},"mark":{"type":"text","style":"ctr"},"encoding":{"text":{"field":"label"}}}
]},
{"width":225,"height":1,"data":{"values":[]},"mark":"point","encoding":{}},

{"title":{"text":"H","dx":11,"offset":-45},"width":310,"height":251,
"encoding":{"x":{"field":"slot","type":"quantitative","axis":{"values":[],"title":null,"ticks":false,"labels":false,"offset":-54.3},"scale":{"domain":[-0.206,13.48],"range":[78,297],"nice":false,"zero":false,"padding":0}},"y":{"field":"value","type":"quantitative","axis":{"values":[0,100,200,300,400],"offset":-86,"labelPadding":1,"labelFontSize":18,"title":["Clathrin or AP-2","(% wt+eNOS,■)"],"titleFontSize":15.5,"titleX":-62,"titleY":128},"scale":{"domain":[0,400],"range":[196.7,64.3],"nice":false,"zero":false}}},
"layer":[
{"data":{"values":[{"slot":1.275,"slot2":6.03,"value":478.6,"value2":478.6},{"slot":8.6,"slot2":11.97,"value":478.6,"value2":478.6},{"slot":0.59,"slot2":3.5,"value":401,"value2":401},{"slot":3.875,"slot2":6.75,"value":401,"value2":401},{"slot":7.21,"slot2":10.09,"value":401,"value2":401},{"slot":10.5,"slot2":13.42,"value":401,"value2":401}]},"mark":{"type":"rule","style":"rl"},"encoding":{"x2":{"field":"slot2"},"y2":{"field":"value2"}}},
{"data":{"name":"h_v"},"mark":{"type":"bar","width":14.5,"style":"bar1"},"encoding":{"y":{"field":"value","type":"quantitative","stack":null},"fill":{"field":"series","type":"nominal","legend":null,"scale":{"domain":["sample","reference"],"range":["#ffffff","#0a0a0a"]}}}},
{"data":{"name":"h_v"},"transform":[{"filter":"datum.hi"}],"mark":{"type":"rule","style":"err"},"encoding":{"y2":{"field":"hi"}}},
{"data":{"name":"h_v"},"transform":[{"filter":"datum.hi"}],"mark":{"type":"tick","orient":"horizontal","size":9,"thickness":1.4,"color":"#111"},"encoding":{"y":{"field":"hi","type":"quantitative"}}},
{"data":{"values":[{"slot":1,"value":70,"label":"*"},{"slot":3,"value":348,"label":"*"},{"slot":6.3,"value":360,"label":"*"},{"slot":7.6,"value":92,"label":"*"},{"slot":9.6,"value":350,"label":"*"},{"slot":12.9,"value":363,"label":"*"}]},"mark":{"type":"text","style":"star"},"encoding":{"text":{"field":"label"}}},
{"data":{"values":[{"slot":1.17,"value":-25,"label":"wt"},{"slot":2.25,"value":-35,"label":"C410S"},{"slot":3.33,"value":-45,"label":"C410A"},{"slot":4.47,"value":-25,"label":"wt"},{"slot":5.55,"value":-35,"label":"C410S"},{"slot":6.63,"value":-45,"label":"C410A"},{"slot":7.77,"value":-25,"label":"wt"},{"slot":8.85,"value":-35,"label":"C410S"},{"slot":9.93,"value":-45,"label":"C410A"},{"slot":11.07,"value":-25,"label":"wt"},{"slot":12.15,"value":-35,"label":"C410S"},{"slot":13.23,"value":-45,"label":"C410A"}]},"mark":{"type":"text","style":"end","fontSize":16},"encoding":{"text":{"field":"label"}}},
{"data":{"values":[{"slot":-0.27,"value":-100.6,"label":"IP:"}]},"mark":{"type":"text","style":"rgt"},"encoding":{"text":{"field":"label"}}},
{"data":{"values":[{"slot":3.6,"value":495,"label":"IB Clathrin"},{"slot":10.29,"value":495,"label":"IB AP-2"},{"slot":2,"value":431,"label":"−eNOS"},{"slot":5.29,"value":431,"label":"+eNOS"},{"slot":8.6,"value":431,"label":"−eNOS"},{"slot":11.9,"value":431,"label":"+eNOS"}]},"mark":{"type":"text","style":"ctr"},"encoding":{"text":{"field":"label"}}}
]},
{"title":{"text":"J","dx":19,"offset":-20},"width":290,"height":251,
"encoding":{"x":{"field":"slot","type":"quantitative","axis":{"values":[],"title":null,"ticks":false,"labels":false,"offset":-92},"scale":{"domain":[0.115,3.972],"range":[89.3,200],"nice":false,"zero":false,"padding":0}},"y":{"field":"value","type":"quantitative","axis":{"values":[0,25,50,75,100],"offset":-96,"tickSize":6.7,"labelPadding":2,"labelFontSize":15.5,"title":"% Wild-type","titleX":-44,"titleY":95},"scale":{"domain":[0,100],"range":[159,26.7],"nice":false,"zero":false}}},
"layer":[
{"data":{"values":[{"slot":-0.268,"slot2":4.226,"value":108.3,"value2":108.3}]},"mark":{"type":"rule","style":"rl"},"encoding":{"x2":{"field":"slot2"},"y2":{"field":"value2"}}},
{"data":{"name":"j_v"},"mark":{"type":"bar","width":22.5,"style":"bar1"},"encoding":{"y":{"field":"value","type":"quantitative","stack":null},"fill":{"field":"series","type":"nominal","legend":null,"scale":{"domain":["sample"],"range":["#ffffff"]}}}},
{"data":{"name":"j_v"},"transform":[{"filter":"datum.hi"}],"mark":{"type":"rule","style":"err"},"encoding":{"y2":{"field":"hi"}}},
{"data":{"name":"j_v"},"transform":[{"filter":"datum.hi"}],"mark":{"type":"tick","orient":"horizontal","size":12,"thickness":1.4,"color":"#111"},"encoding":{"y":{"field":"hi","type":"quantitative"}}},
{"data":{"values":[{"slot":1.975,"value":57,"label":"*"},{"slot":3,"value":56,"label":"*"}]},"mark":{"type":"text","style":"star"},"encoding":{"text":{"field":"label"}}},
{"data":{"values":[{"slot":1.185,"value":-10.6,"label":"wt"},{"slot":2.17,"value":-10.6,"label":"C410S"},{"slot":3.16,"value":-10.6,"label":"C410A"}]},"mark":{"type":"text","style":"end"},"encoding":{"text":{"field":"label"}}},
{"data":{"values":[{"slot":1.975,"value":113.9,"label":"IP eNOS, IB β-Arr2"}]},"mark":{"type":"text","style":"ctr"},"encoding":{"text":{"field":"label"}}}
]},
{"title":{"text":"L","dx":13,"offset":-25},"width":225,"height":251,
"encoding":{"x":{"field":"slot","type":"quantitative","axis":{"values":[],"title":null,"ticks":false,"labels":false,"offset":-87.7},"scale":{"domain":[0.303,8.493],"range":[86.7,319.3],"nice":false,"zero":false,"padding":0}},"y":{"field":"value","type":"quantitative","axis":{"values":[0,200,400,600,800,1000],"offset":-92.3,"tickSize":5.6,"labelPadding":5.5,"labelFontSize":15,"title":["Clathrin or AP-2","(% Wild-type)"],"titleFontSize":15.5,"titleX":-64,"titleY":96.7},"scale":{"domain":[0,1000],"range":[163.3,31],"nice":false,"zero":false}}},
"layer":[
{"data":{"name":"l_v"},"mark":{"type":"bar","width":9,"style":"bar1"},"encoding":{"y":{"field":"value","type":"quantitative","stack":null},"fill":{"field":"series","type":"nominal","scale":{"domain":["IP β-Arr2, IB Clathrin","IP β-Arr2, IB AP-2"],"range":["#ffffff","#0a0a0a"]},"legend":{"legendX":97,"legendY":25}}}},
{"data":{"name":"l_v"},"transform":[{"filter":"datum.hi"}],"mark":{"type":"rule","style":"err"},"encoding":{"y2":{"field":"hi"}}},
{"data":{"name":"l_v"},"transform":[{"filter":"datum.hi"}],"mark":{"type":"tick","orient":"horizontal","size":6,"thickness":1.4,"color":"#111"},"encoding":{"y":{"field":"hi","type":"quantitative"}}},
{"data":{"values":[{"slot":1.063,"value":-88,"label":"WT"},{"slot":2.08,"value":-88,"label":"C410N"},{"slot":3.15,"value":-88,"label":"C410S"},{"slot":4.26,"value":-88,"label":"C410R"},{"slot":5.25,"value":-88,"label":"C410P"},{"slot":6.46,"value":-88,"label":"C410M"},{"slot":7.48,"value":-88,"label":"C410A"},{"slot":8.47,"value":-88,"label":"C410F"}]},"mark":{"type":"text","style":"end"},"encoding":{"text":{"field":"label"}}}
]},
{"width":225,"height":1,"data":{"values":[]},"mark":"point","encoding":{}}
]}
